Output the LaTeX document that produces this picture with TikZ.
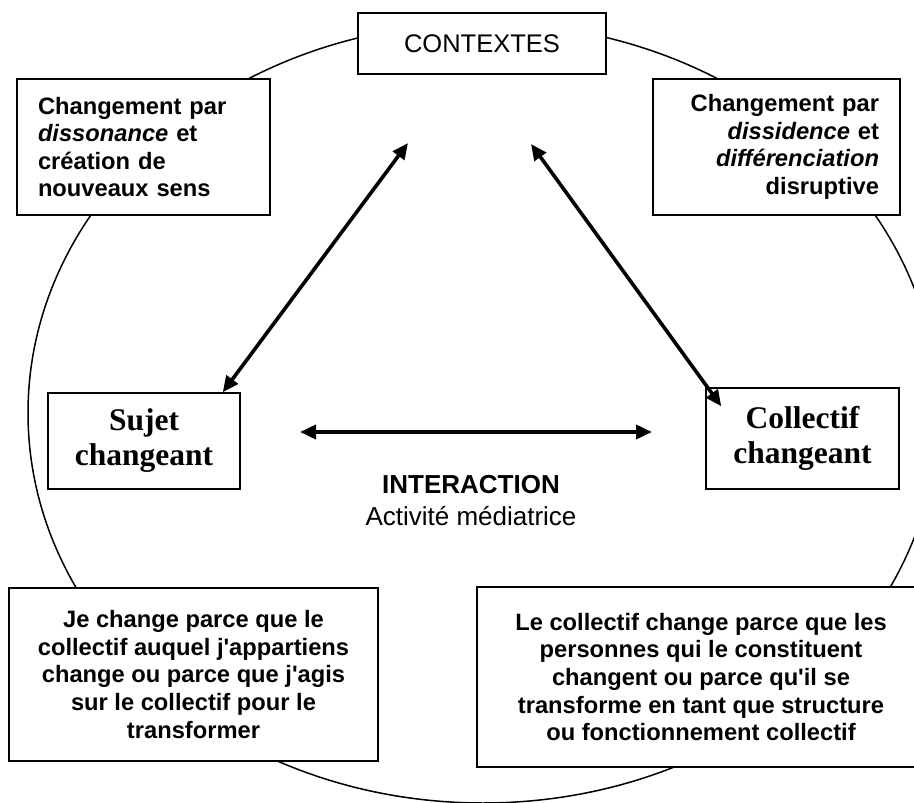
\documentclass[tikz,border=0pt]{standalone}
\usepackage{fontspec}
\setmainfont{Liberation Sans}
\newfontfamily\timesfont{Liberation Serif}
\usetikzlibrary{arrows.meta}

\begin{document}
\begin{tikzpicture}[x=1pt,y=-1pt,
    arrow/.style = {line width=3.6pt,>={Triangle[length=16pt,width=14pt]},<->},
    box/.style = {draw,fill=white,line width=1.5pt,inner sep=0pt},
    txt/.style = {font=\fontsize{23.7}{27.6}\selectfont\bfseries},
    big/.style = {font=\timesfont\fontsize{31.5}{35}\selectfont\bfseries,align=center}]
    \useasboundingbox (0,0) rectangle (914,803);
    \clip (0,0) rectangle (914,803);
    \draw[line width=1.5pt] (483,413) ellipse [x radius=455pt, y radius=390pt];
    \node[box,minimum width=248,minimum height=61,font=\fontsize{25.5}{30}\selectfont] (ctx) at (482,43.5) {CONTEXTES};
    \node[box,txt,minimum width=253,minimum height=136,text width=211,align=left] (dissonance) at (143.5,147)
        {Changement par\\ \textit{dissonance} et\\ création de\\ nouveaux sens};
    \node[box,txt,minimum width=247,minimum height=136,text width=205,align=right] (dissidence) at (776.5,147)
        {Changement par\\ \textit{dissidence} et\\ \textit{différenciation}\\ disruptive};
    \node[box,big,minimum width=192,minimum height=96] (sujet) at (144,441) {Sujet\\ changeant};
    \node[box,big,minimum width=193,minimum height=101] (collectif) at (802.5,438.5) {Collectif\\ changeant};
    \node[box,txt,minimum width=369,minimum height=173,align=center] (je) at (193.5,674.5)
        {Je change parce que le\\ collectif auquel j\textquotesingle appartiens\\ change ou parce que j\textquotesingle agis\\ sur le collectif pour le\\ transformer};
    \node[box,txt,minimum width=448,minimum height=180,align=center] (lecoll) at (701,677)
        {Le collectif change parce que les\\ personnes qui le constituent\\ changent ou parce qu\textquotesingle il se\\ transforme en tant que structure\\ ou fonctionnement collectif};
    \node[anchor=base,font=\fontsize{26}{30}\selectfont\bfseries] (interaction) at (471,493) {INTERACTION};
    \node[anchor=base,font=\fontsize{26}{30}\selectfont] (activite) at (471,525) {Activité médiatrice};
    \coordinate (ctxl) at (408,143);
    \coordinate (ctxr) at (531,144);
    \coordinate (ia) at (300,432);
    \coordinate (ib) at (652,432);
    \draw[arrow] (ctxl) -- ([xshift=-18pt]sujet.north east);
    \draw[arrow] (ctxr) -- ([xshift=16pt,yshift=-19pt]collectif.north west);
    \draw[arrow] (ia) -- (ib);
\end{tikzpicture}
\end{document}
